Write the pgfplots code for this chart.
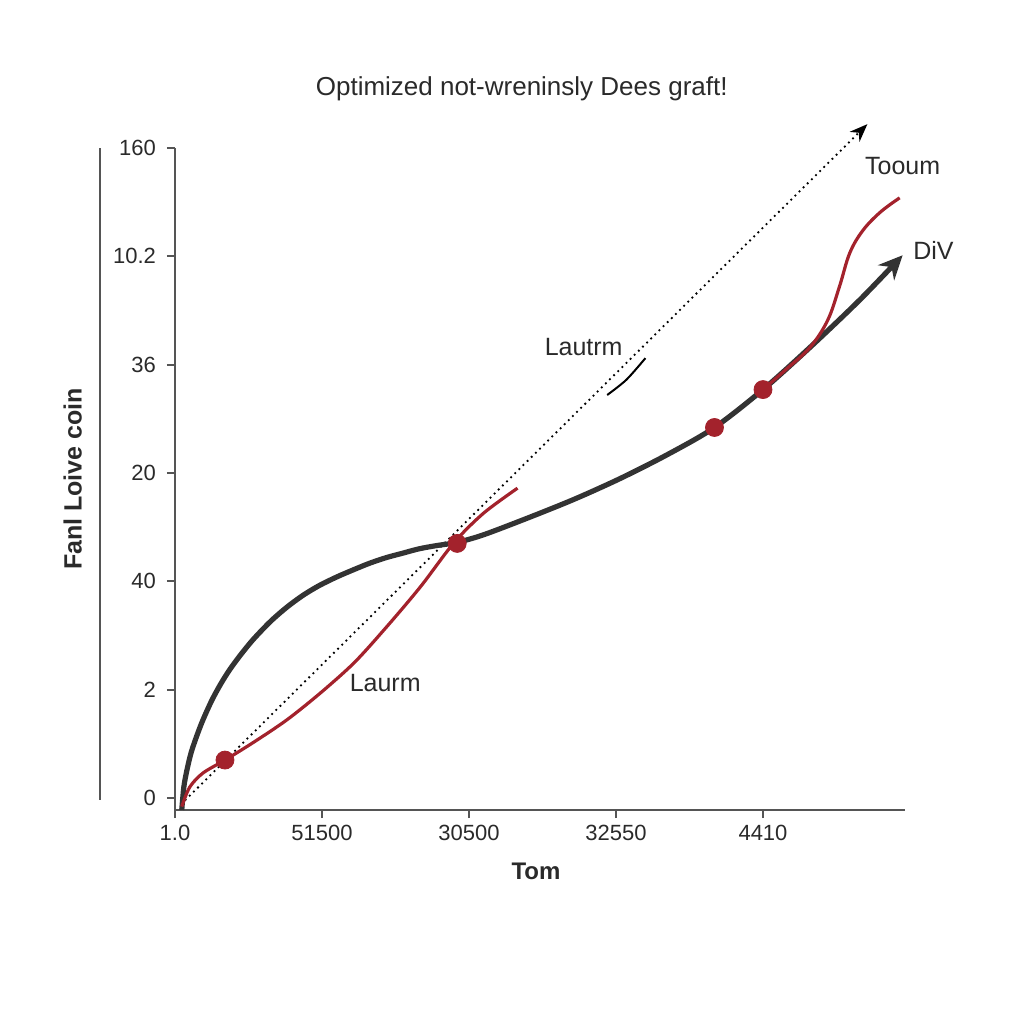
\documentclass[border=0pt]{standalone}
\usepackage{pgfplots}
\pgfplotsset{compat=1.18}
\usepackage{fontspec}
\setmainfont{Liberation Sans}
\usetikzlibrary{arrows.meta}
\definecolor{curveblack}{HTML}{333333}
\definecolor{curvered}{HTML}{A3222C}
\definecolor{axgray}{HTML}{555555}
\definecolor{txt}{HTML}{2A2A2A}
\begin{document}
\begin{tikzpicture}
\path[use as bounding box] (0,0) rectangle (512pt,512pt);
\begin{axis}[
  at={(87.5pt,107pt)}, anchor=south west,
  scale only axis, width=365pt, height=331pt,
  xmin=0, xmax=4.966, ymin=-0.111, ymax=6,
  clip=false,
  axis x line=bottom, axis y line=left,
  axis line style={-, axgray, line width=1pt},
  tick style={axgray, line width=1pt},
  tick align=outside, major tick length=4pt,
  xtick={0,1,2,3,4}, xticklabels={1.0,51500,30500,32550,4410},
  ytick={0,1,2,3,4,5,6}, yticklabels={0,2,40,20,36,10.2,160},
  ticklabel style={font=\fontsize{11}{13}\selectfont, text=txt},
  /pgf/number format/assume math mode=true,
  yticklabel style={xshift=-2pt},
  xlabel={Tom}, xlabel style={at={(axis description cs:0.4945,-0.092)}, anchor=center, font=\bfseries\fontsize{12}{14}\selectfont, text=txt},
  ylabel={Fanl Loive coin}, ylabel style={at={(axis description cs:-0.14,0.5)}, anchor=center, font=\bfseries\fontsize{12.5}{14}\selectfont, text=txt},
  title={Optimized not-wreninsly Dees graft!}, title style={at={(axis description cs:0.475,1.071)}, anchor=center, font=\fontsize{13}{15}\selectfont, text=txt},
]
% decorative left rule
\draw[axgray, line width=1pt] (axis cs:-0.51,6) -- (axis cs:-0.51,-0.02);
% dotted diagonal
\addplot[black, line width=0.9pt, dotted, -{Stealth[length=9pt,width=7pt]}] coordinates {(0.04,-0.06) (4.71,6.22)};
% small arc
\addplot[black, line width=1pt, smooth] coordinates {(2.94,3.72) (3.07,3.86) (3.20,4.06)};
% black curve
\addplot[curveblack, line width=2.6pt, smooth, tension=0.5, line join=round, -{Stealth[length=12pt,width=11pt]}] coordinates {
(0.046,-0.11) (0.06,0.10) (0.08,0.25) (0.11,0.42) (0.15,0.58) (0.19,0.72) (0.25,0.90) (0.31,1.05) (0.37,1.18) (0.44,1.31) (0.53,1.46) (0.65,1.63) (0.76,1.76) (0.87,1.87) (0.98,1.96)
(1.10,2.04) (1.22,2.11) (1.33,2.17) (1.44,2.22) (1.55,2.26) (1.66,2.30) (1.78,2.33) (1.92,2.36) (2.10,2.43) (2.41,2.59) (2.72,2.76) (3.03,2.95) (3.35,3.17) (3.67,3.42) (4.0,3.77) (4.32,4.16) (4.66,4.60) (4.95,5.01)};
% red curve, first part
\addplot[curvered, line width=1.6pt, smooth, tension=0.5, line join=round] coordinates {
(0.046,-0.08) (0.10,0.10) (0.19,0.23) (0.34,0.35) (0.53,0.51) (0.76,0.72) (0.99,0.97) (1.22,1.25) (1.44,1.58) (1.67,1.95) (1.90,2.36) (2.10,2.63) (2.33,2.86)};
% red curve, second part
\addplot[curvered, line width=1.6pt, smooth, tension=0.6, line join=round] coordinates {
(4.0,3.77) (4.16,3.96) (4.32,4.16) (4.44,4.41) (4.52,4.72) (4.59,5.03) (4.68,5.24) (4.80,5.41) (4.93,5.54)};
% markers
\addplot[only marks, mark=*, mark size=4.5pt, mark options={fill=curvered, draw=curvered}] coordinates {(0.34,0.35) (1.92,2.35) (3.67,3.42) (4.0,3.77)};
% labels
\node[text=txt, font=\fontsize{12.5}{14}\selectfont] at (axis cs:2.78,4.16) {Lautrm};
\node[text=txt, font=\fontsize{12.5}{14}\selectfont] at (axis cs:1.43,1.06) {Laurm};
\node[text=txt, font=\fontsize{12.5}{14}\selectfont] at (axis cs:4.95,5.83) {Tooum};
\node[text=txt, font=\fontsize{12.5}{14}\selectfont] at (axis cs:5.16,5.05) {DiV};
\end{axis}
\end{tikzpicture}
\end{document}
